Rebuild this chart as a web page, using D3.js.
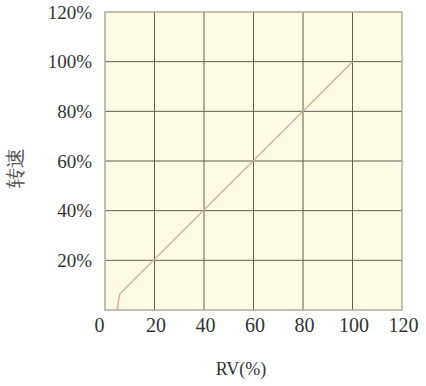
<!DOCTYPE html>
<html>
<head>
<meta charset="utf-8">
<script src="https://cdn.jsdelivr.net/npm/d3@7"></script>
<style>
    body { margin: 0; background: #fff; }
    svg text { font-family: "Liberation Serif", "DejaVu Serif", serif; fill: #333; }
</style>
</head>
<body>
<svg id="chart"></svg>
<script>
// RV (%) vs speed (%)
const rv = [5, 5.4, 6, 100];
const speed = [0, 3.5, 6.5, 100];
const xTicks = [0, 20, 40, 60, 80, 100, 120];
const yTicks = [20, 40, 60, 80, 100, 120];
const yTickLabels = ["20%", "40%", "60%", "80%", "100%", "120%"];

const width = 426;
const height = 386;
const margin = { top: 12, right: 24, bottom: 76, left: 105 };

const svg = d3.select("#chart")
    .attr("width", width)
    .attr("height", height);

const xScale = d3.scaleLinear()
    .domain([0, 120])
    .range([margin.left, width - margin.right]);

const yScale = d3.scaleLinear()
    .domain([0, 120])
    .range([height - margin.bottom, margin.top]);

// plot background
svg.append("rect")
    .attr("x", xScale(0))
    .attr("y", yScale(120))
    .attr("width", xScale(120) - xScale(0))
    .attr("height", yScale(0) - yScale(120))
    .attr("fill", "#fdfbe3");

// grid
svg.append("g")
    .selectAll("line")
    .data(xTicks.filter(d => d > 0 && d < 120))
    .enter()
    .append("line")
    .attr("x1", d => xScale(d)).attr("x2", d => xScale(d))
    .attr("y1", yScale(0)).attr("y2", yScale(120))
    .attr("stroke", "#5e5e52")
    .attr("stroke-width", 1);

svg.append("g")
    .selectAll("line")
    .data(yTicks.filter(d => d < 120))
    .enter()
    .append("line")
    .attr("x1", xScale(0)).attr("x2", xScale(120))
    .attr("y1", d => yScale(d)).attr("y2", d => yScale(d))
    .attr("stroke", "#5e5e52")
    .attr("stroke-width", 1);

// border
svg.append("rect")
    .attr("x", xScale(0))
    .attr("y", yScale(120))
    .attr("width", xScale(120) - xScale(0))
    .attr("height", yScale(0) - yScale(120))
    .attr("fill", "none")
    .attr("stroke", "#aeab98")
    .attr("stroke-width", 1.5);

// axes (labels only)
const xAxis = d3.axisBottom(xScale).tickValues(xTicks).tickSize(0).tickPadding(8);
const yAxis = d3.axisLeft(yScale).tickValues(yTicks).tickSize(0).tickPadding(13)
    .tickFormat((d, i) => yTickLabels[i]);

const gx = svg.append("g")
    .attr("transform", `translate(0, ${yScale(0)})`)
    .call(xAxis);
gx.select(".domain").remove();
gx.selectAll("text")
    .attr("font-size", 20)
    .attr("font-family", "Liberation Serif")
    .attr("fill", "#333")
    .attr("dx", d => d === 0 ? -6 : 1);

const gy = svg.append("g")
    .attr("transform", `translate(${xScale(0)}, 0)`)
    .call(yAxis);
gy.select(".domain").remove();
gy.selectAll("text")
    .attr("font-size", 19)
    .attr("font-family", "Liberation Serif")
    .attr("fill", "#333");

// data line
const line = d3.line()
    .x(d => xScale(d[0]))
    .y(d => yScale(d[1]));

svg.append("path")
    .datum(rv.map((v, i) => [v, speed[i]]))
    .attr("d", line)
    .attr("fill", "none")
    .attr("stroke", "#d9a99a")
    .attr("stroke-width", 1.3);

// axis titles
svg.append("text")
    .attr("x", 241)
    .attr("y", 375)
    .attr("text-anchor", "middle")
    .attr("font-size", 18)
    .text("RV(%)");

svg.append("text")
    .attr("transform", "translate(22, 168) rotate(-90)")
    .attr("text-anchor", "middle")
    .attr("font-family", "Noto Sans CJK SC")
    .attr("font-size", 20)
    .attr("font-weight", 300)
    .style("fill", "#555")
    .text("转速");
</script>
</body>
</html>
